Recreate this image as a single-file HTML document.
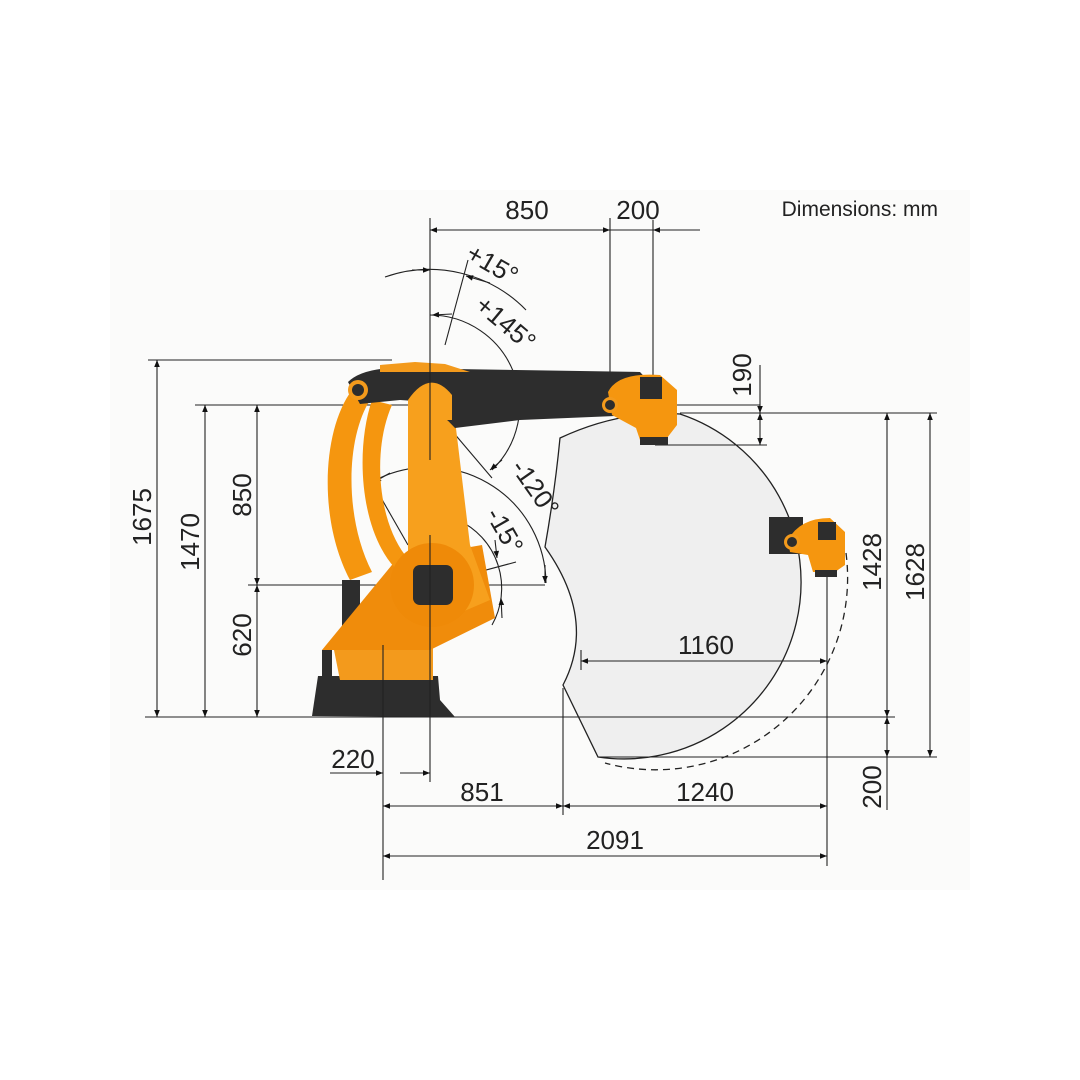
<!DOCTYPE html>
<html><head><meta charset="utf-8"><style>
html,body{margin:0;padding:0;background:#fff}
svg{display:block}
text{font-family:"Liberation Sans",sans-serif;fill:#222}
</style></head><body>
<svg width="1080" height="1080" viewBox="0 0 1080 1080" xmlns="http://www.w3.org/2000/svg">
<defs>
<marker id="a" viewBox="0 0 10 10" refX="10" refY="5" markerWidth="14" markerHeight="7" orient="auto-start-reverse" markerUnits="userSpaceOnUse"><path d="M0,1 L10,5 L0,9 z" fill="#111"/></marker>
</defs>
<rect x="110" y="190" width="860" height="700" fill="#fbfbfa"/>
<!-- workspace -->
<path d="M680,414 A177,177 0 0 1 598,757 Q580,720 563,685 Q597,620 545,547 Q555,490 560,438 Q620,410 680,414 Z" fill="#efefef" stroke="#222" stroke-width="1.3"/>
<path d="M846,553 A192,192 0 0 1 605,763" fill="none" stroke="#222" stroke-width="1.3" stroke-dasharray="7,5"/>

<g stroke="#222" stroke-width="1.1" fill="none">
<line x1="430" y1="218" x2="430" y2="360"/>
<line x1="610" y1="218" x2="610" y2="392"/>
<line x1="653" y1="220" x2="653" y2="382"/>
<line x1="430" y1="230" x2="700" y2="230"/>
<line x1="520" y1="230" x2="430" y2="230" marker-end="url(#a)"/>
<line x1="560" y1="230" x2="610" y2="230" marker-end="url(#a)"/>
<line x1="700" y1="230" x2="653" y2="230" marker-end="url(#a)"/>
<line x1="148" y1="360" x2="392" y2="360"/>
<line x1="195" y1="405" x2="760" y2="405"/>
<line x1="248" y1="585" x2="545" y2="585"/>
<line x1="145" y1="717" x2="895" y2="717"/>
<line x1="157" y1="360" x2="157" y2="717" marker-start="url(#a)" marker-end="url(#a)"/>
<line x1="205" y1="405" x2="205" y2="717" marker-start="url(#a)" marker-end="url(#a)"/>
<line x1="257" y1="405" x2="257" y2="585" marker-start="url(#a)" marker-end="url(#a)"/>
<line x1="257" y1="585" x2="257" y2="717" marker-start="url(#a)" marker-end="url(#a)"/>
<line x1="680" y1="413" x2="937" y2="413"/>
<line x1="655" y1="445" x2="767" y2="445"/>
<line x1="598" y1="757" x2="937" y2="757"/>
<line x1="760" y1="365" x2="760" y2="413" marker-end="url(#a)"/>
<line x1="760" y1="413" x2="760" y2="445" marker-start="url(#a)" marker-end="url(#a)"/>
<line x1="887" y1="413" x2="887" y2="717" marker-start="url(#a)" marker-end="url(#a)"/>
<line x1="887" y1="717" x2="887" y2="757" marker-start="url(#a)" marker-end="url(#a)"/>
<line x1="887" y1="757" x2="887" y2="810"/>
<line x1="930" y1="413" x2="930" y2="757" marker-start="url(#a)" marker-end="url(#a)"/>
<line x1="383" y1="645" x2="383" y2="880"/>
<line x1="430" y1="717" x2="430" y2="782"/>
<line x1="563" y1="688" x2="563" y2="815"/>
<line x1="827" y1="577" x2="827" y2="866"/>
<line x1="400" y1="773" x2="430" y2="773" marker-end="url(#a)"/>
<line x1="330" y1="773" x2="383" y2="773" marker-end="url(#a)"/>
<line x1="383" y1="806" x2="563" y2="806" marker-start="url(#a)" marker-end="url(#a)"/>
<line x1="563" y1="806" x2="827" y2="806" marker-start="url(#a)" marker-end="url(#a)"/>
<line x1="383" y1="856" x2="827" y2="856" marker-start="url(#a)" marker-end="url(#a)"/>
<line x1="581" y1="661" x2="827" y2="661" marker-start="url(#a)" marker-end="url(#a)"/>
<line x1="581" y1="650" x2="581" y2="670"/>
<path d="M385,277 A135,135 0 0 1 526,310"/>
<line x1="412" y1="270" x2="430" y2="270" marker-end="url(#a)"/>
<line x1="490" y1="283" x2="466" y2="276" marker-end="url(#a)"/>
<line x1="445" y1="345" x2="468" y2="260"/>
<path d="M430,315 A90,90 0 0 1 492,470"/>
<line x1="452" y1="314" x2="432" y2="315" marker-end="url(#a)"/>
<line x1="430" y1="405" x2="492" y2="478"/>
<line x1="502" y1="460" x2="490" y2="470" marker-end="url(#a)"/>
<path d="M372,482 A117,117 0 0 1 546,583"/>
<line x1="390" y1="473" x2="374" y2="482" marker-end="url(#a)"/>
<line x1="545" y1="565" x2="545" y2="583" marker-end="url(#a)"/>
<line x1="372" y1="482" x2="408" y2="545"/>
<path d="M458,520 A75,75 0 0 1 492,625"/>
<line x1="495" y1="540" x2="497" y2="558" marker-end="url(#a)"/>
<line x1="502" y1="618" x2="501" y2="598" marker-end="url(#a)"/>
<line x1="430" y1="585" x2="516" y2="562"/>
</g>

<g>
<path d="M312,716 L318,676 L438,676 L440,700 L455,717 Z" fill="#2d2d2d"/>
<rect x="322" y="650" width="10" height="30" fill="#2d2d2d"/>
<rect x="342" y="580" width="18" height="60" fill="#2d2d2d"/>
<path d="M333,645 L433,645 L433,680 L340,680 Z" fill="#f39a1c"/>
<path d="M322,650 L396,560 L482,545 L495,618 L430,650 Z" fill="#f08c0b"/>
<path d="M352,390 C322,430 318,520 350,580 L372,572 C345,520 345,440 370,400 Z" fill="#f5960f"/>
<path d="M372,400 C355,450 360,530 395,568 L405,555 C378,520 372,450 392,405 Z" fill="#f5960f"/>
<path d="M408,555 L408,395 Q430,370 452,395 L470,545 L490,600 L455,615 Z" fill="#f7a01d"/>
<circle cx="432" cy="585" r="42" fill="#ef8a08"/>
<rect x="413" y="565" width="40" height="40" rx="7" fill="#2d2d2d"/>
<path d="M348,382 Q360,370 390,368 L640,372 L652,385 L640,415 L520,420 L455,428 Q430,400 400,400 L360,404 Z" fill="#2d2d2d"/>
<path d="M408,400 Q430,368 452,395 L452,420 L408,420 Z" fill="#f7a01d"/>
<path d="M380,365 L415,362 L445,364 L470,372 L380,372 Z" fill="#f39a1c"/>
<circle cx="358" cy="390" r="10" fill="#f39a1c"/><circle cx="358" cy="390" r="6" fill="#2d2d2d"/>
<path d="M608,392 Q618,372 660,375 L677,390 L677,425 L667,438 L640,440 L636,428 L612,415 Z" fill="#f5960f"/>
<rect x="640" y="377" width="22" height="22" fill="#2d2d2d"/>
<circle cx="610" cy="405" r="8" fill="#f39a1c"/><circle cx="610" cy="405" r="5" fill="#2d2d2d"/>
<rect x="640" y="437" width="28" height="8" fill="#2d2d2d"/>
<rect x="769" y="517" width="34" height="37" fill="#2d2d2d"/>
<path d="M788,540 Q800,518 830,518 L845,532 L845,565 L835,572 L813,572 L808,555 L790,552 Z" fill="#f5960f"/>
<rect x="818" y="522" width="18" height="18" fill="#2d2d2d"/>
<circle cx="792" cy="542" r="8" fill="#f39a1c"/><circle cx="792" cy="542" r="5" fill="#2d2d2d"/>
<rect x="815" y="570" width="22" height="7" fill="#2d2d2d"/>
</g>
<g stroke="#222" stroke-width="1.1">
<line x1="430" y1="360" x2="430" y2="460"/>
<line x1="430" y1="535" x2="430" y2="717"/>
<line x1="383" y1="645" x2="383" y2="717"/>
</g>

<g font-size="26">
<text x="527" y="219" text-anchor="middle">850</text>
<text x="638" y="219" text-anchor="middle">200</text>
<text x="938" y="216" text-anchor="end" font-size="21">Dimensions: mm</text>
<text x="706" y="654" text-anchor="middle">1160</text>
<text x="353" y="768" text-anchor="middle">220</text>
<text x="482" y="801" text-anchor="middle">851</text>
<text x="705" y="801" text-anchor="middle">1240</text>
<text x="615" y="849" text-anchor="middle">2091</text>
<text transform="translate(151,517) rotate(-90)" text-anchor="middle">1675</text>
<text transform="translate(199,542) rotate(-90)" text-anchor="middle">1470</text>
<text transform="translate(251,495) rotate(-90)" text-anchor="middle">850</text>
<text transform="translate(251,635) rotate(-90)" text-anchor="middle">620</text>
<text transform="translate(751,375) rotate(-90)" text-anchor="middle">190</text>
<text transform="translate(881,562) rotate(-90)" text-anchor="middle">1428</text>
<text transform="translate(924,572) rotate(-90)" text-anchor="middle">1628</text>
<text transform="translate(881,787) rotate(-90)" text-anchor="middle">200</text>
<text transform="translate(488,272) rotate(30)" text-anchor="middle">+15°</text>
<text transform="translate(500,330) rotate(40)" text-anchor="middle">+145°</text>
<text transform="translate(528,493) rotate(55)" text-anchor="middle">-120°</text>
<text transform="translate(497,535) rotate(60)" text-anchor="middle">-15°</text>
</g>
</svg>
</body></html>
